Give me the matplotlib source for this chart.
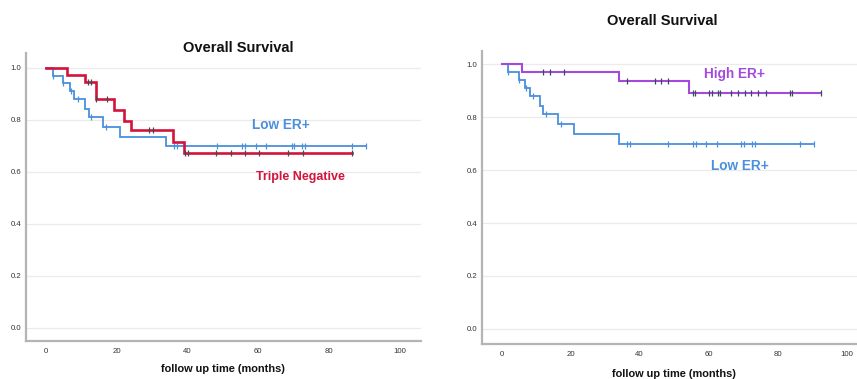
import matplotlib
matplotlib.use("Agg")
import matplotlib.pyplot as plt
import numpy as np

plt.rcParams['font.family'] = ['Liberation Sans', 'DejaVu Sans']

# ---------------- data ----------------
# Low ER+ (same curve in both panels)
low_event_t = [1.9, 5.0, 6.8, 8.1, 11.1, 12.1, 16.3, 21.0, 34.1]
low_surv = [0.970, 0.940, 0.909, 0.878, 0.843, 0.810, 0.773, 0.735, 0.700]
low_censor_t = [1.9, 5.0, 7.2, 9.2, 12.8, 17.1, 36.2, 37.2, 48.3, 55.5, 56.3,
                59.3, 62.3, 69.5, 70.3, 72.5, 73.3, 86.5, 90.6]

# Triple Negative
tn_event_t = [6.1, 11.1, 14.1, 19.2, 22.2, 24.2, 36.1, 39.2]
tn_surv = [0.972, 0.944, 0.878, 0.837, 0.797, 0.760, 0.715, 0.671]
tn_censor_t = [12.0, 12.9, 14.2, 17.2, 29.3, 30.2, 39.4, 40.1, 48.2, 52.4,
               56.4, 60.4, 68.4, 72.6, 86.6]

# High ER+
high_event_t = [6.0, 34.1, 54.3]
high_surv = [0.970, 0.937, 0.893]
high_censor_t = [11.9, 14.0, 18.1, 36.2, 44.4, 46.3, 48.2, 55.4, 56.0, 60.2,
                 60.9, 62.6, 63.3, 66.4, 68.6, 70.5, 72.3, 74.2, 76.5, 83.6,
                 84.2, 92.5]

y_ticks = [0.0, 0.2, 0.4, 0.6, 0.8, 1.0]
x_ticks = [0, 20, 40, 60, 80, 100]

BLUE = '#4a90dc'
RED = '#d2133a'
PURPLE = '#a34ade'
MARK_DARK = '#3b4d55'

W, H = 857, 379
fig = plt.figure(figsize=(W / 100, H / 100), dpi=100)


def px_rect(x0, y0, x1, y1):
    return [x0 / W, 1 - y1 / H, (x1 - x0) / W, (y1 - y0) / H]


def km(ax, ev_t, surv, cen_t, color, lw, mcolor, z):
    end = max(cen_t + ev_t)
    xs = [0.0] + list(ev_t) + [end]
    ys = [1.0] + list(surv) + [surv[-1]]
    ax.step(xs, ys, where='post', color=color, lw=lw, zorder=z,
            solid_joinstyle='miter')
    ev = np.array(ev_t)
    sv = np.array(surv)
    cy = []
    for t in cen_t:
        idx = np.searchsorted(ev, t, side='right') - 1
        cy.append(1.0 if idx < 0 else sv[idx])
    ax.plot(cen_t, cy, ls='none', marker='|', ms=3.8, mew=0.9,
            color=mcolor, zorder=z + 0.5)


def style(ax, xlim, ylim):
    ax.set_xlim(*xlim)
    ax.set_ylim(*ylim)
    ax.set_yticks(y_ticks)
    ax.set_yticklabels([f'{v:.1f}' for v in y_ticks])
    ax.set_xticks(x_ticks)
    ax.set_xticklabels([str(v) for v in x_ticks])
    for v in y_ticks:
        ax.axhline(v, color='#ebebeb', lw=0.9, zorder=0)
    for s in ['top', 'right']:
        ax.spines[s].set_visible(False)
    for s in ['left', 'bottom']:
        ax.spines[s].set_color('#b4b4b4')
        ax.spines[s].set_linewidth(1.6)
    ax.tick_params(length=0, labelsize=5.6, colors='#333333')
    ax.tick_params(axis='x', pad=5)
    ax.tick_params(axis='y', pad=3.5)


# ---------------- left panel ----------------
axL = fig.add_axes(px_rect(26, 52.7, 421, 341))
style(axL, (-5.6, 106.1), (-0.051, 1.058))
km(axL, low_event_t, low_surv, low_censor_t, BLUE, 1.3, BLUE, 3)
km(axL, tn_event_t, tn_surv, tn_censor_t, RED, 1.9, MARK_DARK, 4)
axL.text(66.6, 0.78, 'Low ER+', color=BLUE, fontsize=9.8, fontweight='bold',
         ha='center', va='center')
axL.text(72.0, 0.578, 'Triple Negative', color=RED, fontsize=9.0,
         fontweight='bold', ha='center', va='center')
fig.text(238 / W, 1 - 48 / H, 'Overall Survival', fontsize=10.5,
         fontweight='bold', ha='center', va='center', color='#111111')
fig.text(223 / W, 1 - 369 / H, 'follow up time (months)', fontsize=7.9,
         fontweight='bold', ha='center', va='center', color='#111111')

# ---------------- right panel ----------------
axR = fig.add_axes(px_rect(482.3, 50.7, 857, 344))
style(axR, (-5.6, 103.0), (-0.057, 1.051))
km(axR, low_event_t, low_surv, low_censor_t, BLUE, 1.3, BLUE, 3)
km(axR, high_event_t, high_surv, high_censor_t, PURPLE, 1.5, MARK_DARK, 4)
axR.text(67.6, 0.963, 'High ER+', color=PURPLE, fontsize=9.8,
         fontweight='bold', ha='center', va='center')
axR.text(69.1, 0.617, 'Low ER+', color=BLUE, fontsize=9.8,
         fontweight='bold', ha='center', va='center')
fig.text(662.7 / W, 1 - 21 / H, 'Overall Survival', fontsize=10.5,
         fontweight='bold', ha='center', va='center', color='#111111')
fig.text(674 / W, 1 - 374 / H, 'follow up time (months)', fontsize=7.9,
         fontweight='bold', ha='center', va='center', color='#111111')

fig.savefig('out.png', dpi=100)
